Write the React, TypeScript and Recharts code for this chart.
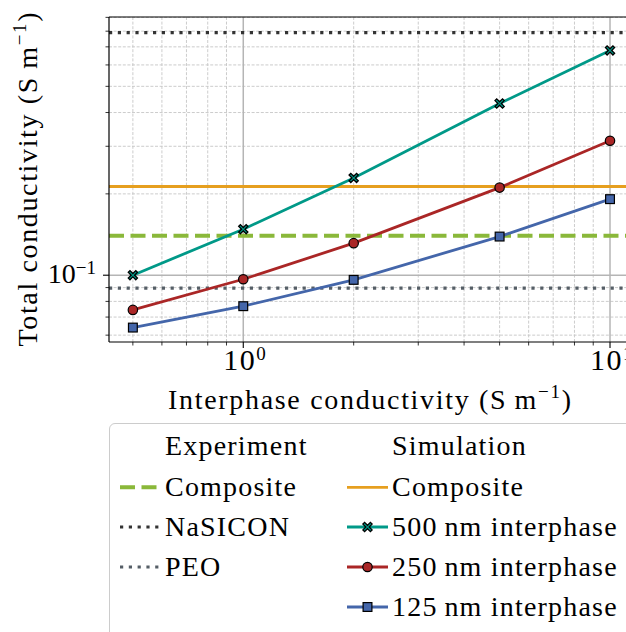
import React from "react";
import {
  LineChart,
  Line,
  XAxis,
  YAxis,
  ReferenceLine,
  Legend,
} from "recharts";

// interphase conductivity (S/m)
const xValues = [0.5, 1, 2, 5, 10];
// simulated total conductivity (S/m)
const sim500 = [0.1, 0.148, 0.229, 0.432, 0.679];
const sim250 = [0.0744, 0.0966, 0.1314, 0.211, 0.3145];
const sim125 = [0.064, 0.0768, 0.0961, 0.139, 0.1912];

// horizontal reference values
const expComposite = 0.14;
const simComposite = 0.213;
const nasicon = 0.79;
const peo = 0.0895;

const xMajor = [1, 10];
const xMinor = [0.5, 0.6, 0.7, 0.8, 0.9, 2, 3, 4, 5, 6, 7, 8, 9];
const yMajor = [0.1];
const yMinor = [0.06, 0.07, 0.08, 0.09, 0.2, 0.3, 0.4, 0.5, 0.6, 0.7, 0.8, 0.9];

const data = xValues.map((x, i) => ({
  x,
  s500: sim500[i],
  s250: sim250[i],
  s125: sim125[i],
}));

const FONT = '"Liberation Serif", serif';
const FS = 28;
const LS = 1.2;
const txtStyle = { fontFamily: FONT };

const C = {
  green: "#8ab83a",
  orange: "#e69f1f",
  teal: "#009988",
  red: "#aa2626",
  blue: "#4466aa",
  nasicon: "#333333",
  peo: "#555e66",
};

const XTick = ({ x, y, payload }: any) => {
  const v = payload.value;
  const major = xMajor.includes(v);
  return (
    <g>
      <line x1={x} x2={x} y1={y} y2={y + (major ? 6 : 3.5)} stroke="#000" strokeWidth={major ? 1.1 : 0.8} />
      {major && (
        <text x={x + 2} y={y + 28} textAnchor="middle" style={txtStyle} fontSize={30} letterSpacing={1.5} fill="#000">
          10
          <tspan dy={-10} fontSize={19}>{Math.round(Math.log10(v))}</tspan>
        </text>
      )}
    </g>
  );
};

const YTick = ({ x, y, payload }: any) => {
  const v = payload.value;
  const major = yMajor.includes(v);
  return (
    <g>
      <line x1={x} x2={x - (major ? 6 : 3.5)} y1={y} y2={y} stroke="#000" strokeWidth={major ? 1.1 : 0.8} />
      {major && (
        <text x={x - 13} y={y + 8} textAnchor="end" style={txtStyle} fontSize={FS} fill="#000">
          10
          <tspan dy={-9} fontSize={19}>{"\u2212" + Math.abs(Math.round(Math.log10(v)))}</tspan>
        </text>
      )}
    </g>
  );
};

const Unit = () => (
  <>
    {"(S\u2009m"}
    <tspan dy={-11} fontSize={19}>{"\u22121"}</tspan>
    <tspan dy={11}>)</tspan>
  </>
);

const XLabel = ({ viewBox }: any) => (
  <text
    x={viewBox.x + viewBox.width / 2 + 2}
    y={viewBox.y + 67}
    textAnchor="middle"
    style={txtStyle}
    fontSize={FS}
    textLength={403}
    lengthAdjust="spacing"
    fill="#000"
  >
    Interphase conductivity <Unit />
  </text>
);

const YLabel = ({ viewBox }: any) => {
  const cx = 37;
  const cy = viewBox.y + viewBox.height / 2;
  return (
    <text
      x={cx}
      y={cy}
      transform={`rotate(-90 ${cx} ${cy})`}
      textAnchor="middle"
      style={txtStyle}
      fontSize={FS}
      textLength={334}
      lengthAdjust="spacing"
      fill="#000"
    >
      Total conductivity <Unit />
    </text>
  );
};

const XMark = ({ cx, cy }: any) => {
  const a = 4.6;
  const t = 1.7;
  const d = `M${cx - a},${cy - a + t} L${cx - t},${cy} L${cx - a},${cy + a - t} L${cx - a + t},${cy + a} L${cx},${cy + t} L${cx + a - t},${cy + a} L${cx + a},${cy + a - t} L${cx + t},${cy} L${cx + a},${cy - a + t} L${cx + a - t},${cy - a} L${cx},${cy - t} L${cx - a + t},${cy - a} Z`;
  return <path d={d} fill={C.teal} stroke="#000" strokeWidth={1.3} strokeLinejoin="miter" />;
};
const CircleMark = ({ cx, cy }: any) => (
  <circle cx={cx} cy={cy} r={4.7} fill={C.red} stroke="#000" strokeWidth={1.2} />
);
const SquareMark = ({ cx, cy }: any) => (
  <rect x={cx - 4.4} y={cy - 4.4} width={8.8} height={8.8} fill={C.blue} stroke="#000" strokeWidth={1.2} />
);

const expItems = [
  { label: "Composite", stroke: C.green, width: 4, dash: "15 6.5" },
  { label: "NaSICON", stroke: C.nasicon, width: 3.2, dash: "3.2 5.6" },
  { label: "PEO", stroke: C.peo, width: 3.2, dash: "3.2 5.6" },
];
const simItems = [
  { label: "Composite", stroke: C.orange, mark: null as any },
  { label: "500\u2009nm interphase", stroke: C.teal, mark: XMark },
  { label: "250\u2009nm interphase", stroke: C.red, mark: CircleMark },
  { label: "125\u2009nm interphase", stroke: C.blue, mark: SquareMark },
];

const LegendBox = () => {
  const rowY = [64.3, 104, 144, 184];
  const txt = (x: number, y: number, s: string, k: string) => (
    <text key={k} x={x} y={y} style={txtStyle} fontSize={FS} letterSpacing={LS} fill="#000">
      {s}
    </text>
  );
  return (
    <div
      style={{
        position: "relative",
        width: 540,
        height: 240,
        border: "1.3px solid #cccccc",
        borderRadius: 6,
        background: "rgba(255,255,255,0.8)",
        boxSizing: "border-box",
      }}
    >
      <svg width={540} height={240} style={{ position: "absolute", left: -1, top: -1 }}>
        {txt(56, 32, "Experiment", "h1")}
        {txt(283, 32, "Simulation", "h2")}
        {expItems.map((it, i) => (
          <g key={"e" + i}>
            <line x1={11} x2={51} y1={rowY[i]} y2={rowY[i]} stroke={it.stroke} strokeWidth={it.width} strokeDasharray={it.dash} />
            {txt(56, rowY[i] + 8.5, it.label, "et" + i)}
          </g>
        ))}
        {simItems.map((it, i) => {
          const M = it.mark;
          return (
            <g key={"s" + i}>
              <line x1={238} x2={279} y1={rowY[i]} y2={rowY[i]} stroke={it.stroke} strokeWidth={2.8} />
              {M && <M cx={258.5} cy={rowY[i]} />}
              {txt(283, rowY[i] + 8.5, it.label, "st" + i)}
            </g>
          );
        })}
      </svg>
    </div>
  );
};

const gridMinor = { stroke: "#c6c6c6", strokeWidth: 0.9, strokeDasharray: "3 1.6" };
const gridMajor = { stroke: "#b5b5b5", strokeWidth: 1.5 };

export default function App() {
  return (
    <div style={{ position: "absolute", left: 0, top: 0, width: 626, height: 632, overflow: "hidden", background: "#fff" }}>
      <style>{"body{margin:0}"}</style>
      <LineChart width={626} height={632} data={data} margin={{ top: 17, right: 0, left: 0, bottom: 210 }}>
        {yMinor.map((v) => (
          <ReferenceLine key={"ym" + v} y={v} {...gridMinor} zIndex={-20} />
        ))}
        {xMinor.map((v) => (
          <ReferenceLine key={"xm" + v} x={v} {...gridMinor} zIndex={-20} />
        ))}
        {yMajor.map((v) => (
          <ReferenceLine key={"yM" + v} y={v} {...gridMajor} zIndex={-10} />
        ))}
        {xMajor.map((v) => (
          <ReferenceLine key={"xM" + v} x={v} {...gridMajor} zIndex={-10} />
        ))}
        <ReferenceLine y={nasicon} stroke={C.nasicon} strokeWidth={3.2} strokeDasharray="3.2 5.6" zIndex={-5} />
        <ReferenceLine y={peo} stroke={C.peo} strokeWidth={3.2} strokeDasharray="3.2 5.6" zIndex={-5} />
        <ReferenceLine y={simComposite} stroke={C.orange} strokeWidth={3} zIndex={-5} />
        <ReferenceLine y={expComposite} stroke={C.green} strokeWidth={4} strokeDasharray="15 6.5" zIndex={-5} />
        <ReferenceLine y={0.9027} stroke="#000" strokeWidth={1.2} zIndex={50} />
        <XAxis
          dataKey="x"
          type="number"
          scale="log"
          domain={[0.4304, 11.056]}
          allowDataOverflow
          ticks={[...xMinor, ...xMajor].sort((a, b) => a - b)}
          interval={0}
          tick={<XTick />}
          tickLine={false}
          tickSize={0}
          tickMargin={0}
          height={80}
          axisLine={{ stroke: "#000", strokeWidth: 1.2 }}
          label={{ content: (p: any) => <XLabel {...p} /> }}
        />
        <YAxis
          type="number"
          scale="log"
          domain={[0.0566, 0.9027]}
          allowDataOverflow
          ticks={[...yMinor, ...yMajor].sort((a, b) => a - b)}
          interval={0}
          tick={<YTick />}
          tickLine={false}
          tickSize={0}
          tickMargin={0}
          width={109}
          axisLine={{ stroke: "#000", strokeWidth: 1.2 }}
          label={{ content: (p: any) => <YLabel {...p} /> }}
        />
        <Line type="linear" dataKey="s125" stroke={C.blue} strokeWidth={2.8} dot={<SquareMark />} activeDot={false} isAnimationActive={false} />
        <Line type="linear" dataKey="s250" stroke={C.red} strokeWidth={2.8} dot={<CircleMark />} activeDot={false} isAnimationActive={false} />
        <Line type="linear" dataKey="s500" stroke={C.teal} strokeWidth={2.8} dot={<XMark />} activeDot={false} isAnimationActive={false} />
        <Legend
          layout="vertical"
          align="center"
          verticalAlign="middle"
          content={() => <LegendBox />}
          wrapperStyle={{ left: 109, top: 423, width: 540, height: 240 }}
        />
      </LineChart>
    </div>
  );
}
